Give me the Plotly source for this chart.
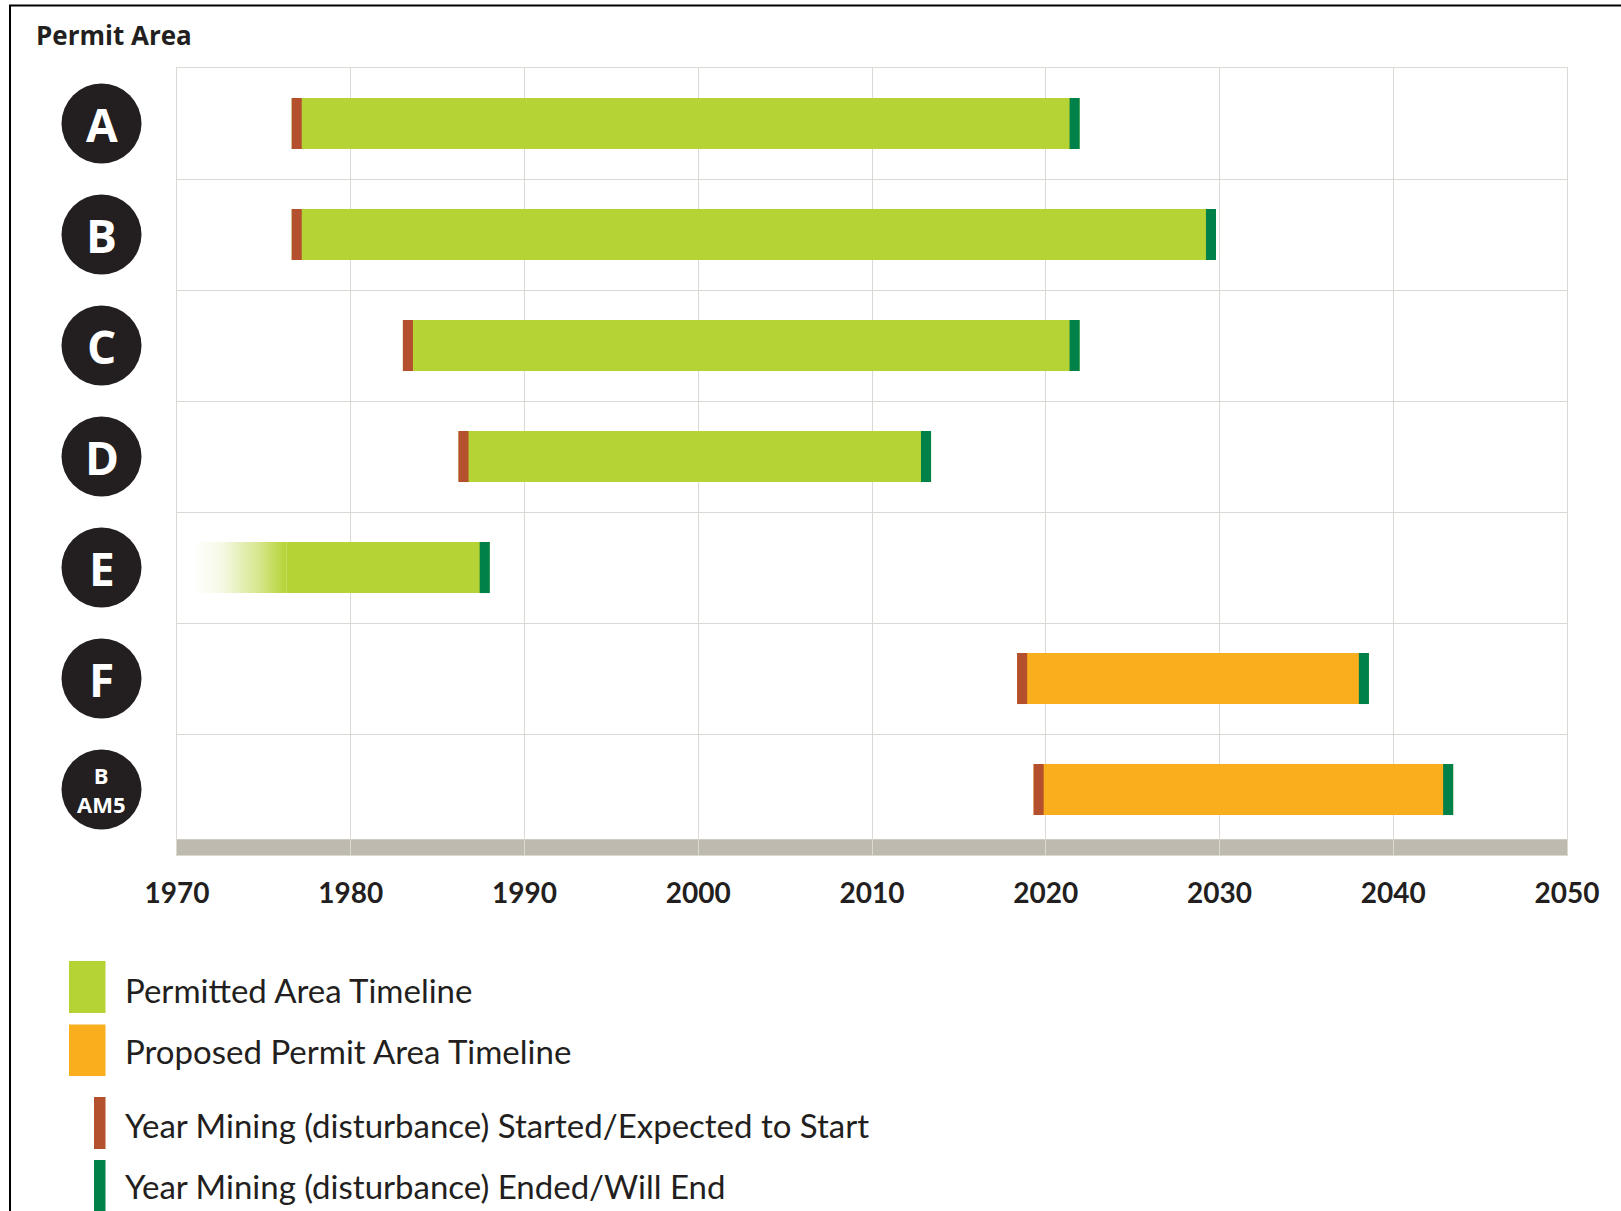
import plotly.graph_objects as go

# ---------------- data ----------------
rows = ["A", "B", "C", "D", "E", "F", "B<br>AM5"]
status = ["Permitted", "Permitted", "Permitted", "Permitted", "Permitted", "Proposed", "Proposed"]
bar_start = [1976.6, 1976.6, 1983.0, 1986.2, 1976.3, 2018.35, 2019.3]
bar_end = [2021.95, 2029.8, 2021.95, 2013.4, 1988.0, 2038.6, 2043.45]
mining_start = [1976.6, 1976.6, 1983.0, 1986.2, None, 2018.35, 2019.3]
mining_end = [2021.95, 2029.8, 2021.95, 2013.4, 1988.0, 2038.6, 2043.45]
e_fade_start = 1970.9   # row E: permitted before record, fading in
e_fade_end = 1976.3
year_ticks = [1970, 1980, 1990, 2000, 2010, 2020, 2030, 2040, 2050]
legend_labels = [
    "Permitted Area Timeline",
    "Proposed Permit Area Timeline",
    "Year Mining (disturbance) Started/Expected to Start",
    "Year Mining (disturbance) Ended/Will End",
]

# ---------------- style ----------------
W, H = 1621, 1211
ML, MR, MT, MB = 177, 54, 68, 356
PW, PH = W - ML - MR, H - MT - MB
C_PERMIT = "#b5d334"
C_PROPOSED = "#f9ae1d"
C_START = "#b5502e"
C_END = "#00814a"
C_DARK = "#231f20"
C_GRID = "#dcd9d4"
C_BAND = "#bfbab0"
BAR_W = 0.46
MARK_W = 0.58
Y_TOP, Y_BOTTOM = -0.5, 6.59
BAND_TOP = 6.449


def px_x(px):
    return (px - ML) / PW


def px_y(py):
    return (H - MB - py) / PH


idx = list(range(len(rows)))
main_col = [C_PERMIT if s == "Permitted" else C_PROPOSED for s in status]

fig = go.Figure()

# fade-in portion of row E
ei = rows.index("E")
fig.add_trace(go.Scatter(
    x=[e_fade_start, e_fade_end, e_fade_end, e_fade_start, e_fade_start],
    y=[ei - BAR_W / 2, ei - BAR_W / 2, ei + BAR_W / 2, ei + BAR_W / 2, ei - BAR_W / 2],
    mode="lines", line=dict(width=0), fill="toself",
    fillgradient=dict(type="horizontal", colorscale=[
        [0, "rgba(181,211,52,0)"], [0.3, "rgba(181,211,52,0.12)"],
        [0.7, "rgba(181,211,52,0.55)"], [1, "rgba(181,211,52,1)"]]),
    hoverinfo="skip", showlegend=False))

# main timeline bars
fig.add_trace(go.Bar(
    orientation="h", y=idx, base=bar_start,
    x=[e - s for s, e in zip(bar_start, bar_end)],
    width=BAR_W, marker=dict(color=main_col, line=dict(width=0)), showlegend=False))

# mining start markers
ms_y = [i for i, v in zip(idx, mining_start) if v is not None]
ms_x = [v for v in mining_start if v is not None]
fig.add_trace(go.Bar(
    orientation="h", y=ms_y, base=ms_x, x=[MARK_W] * len(ms_x),
    width=BAR_W, marker=dict(color=C_START, line=dict(width=0)), showlegend=False))

# mining end markers
fig.add_trace(go.Bar(
    orientation="h", y=idx, base=[v - MARK_W for v in mining_end], x=[MARK_W] * len(idx),
    width=BAR_W, marker=dict(color=C_END, line=dict(width=0)), showlegend=False))

shapes = []
annotations = []

# grey base band
shapes.append(dict(type="rect", xref="x", yref="y", x0=year_ticks[0], x1=year_ticks[-1],
                   y0=BAND_TOP, y1=Y_BOTTOM, fillcolor=C_BAND, line=dict(width=0), layer="below"))

# row circles
cx = px_x(101.5)
for i, lab in enumerate(rows):
    shapes.append(dict(type="circle", xref="paper", yref="y", xsizemode="pixel", ysizemode="pixel",
                       xanchor=cx, yanchor=i, x0=-40, x1=40, y0=-40, y1=40,
                       fillcolor=C_DARK, line=dict(width=0)))
    big = "<br>" not in lab
    annotations.append(dict(xref="paper", yref="y", x=cx, y=i, text=lab, showarrow=False,
                            xanchor="center", yanchor="middle", align="center",
                            font=dict(family="Open Sans", size=46 if big else 22, color="white", weight=700)))

# outer frame
shapes.append(dict(type="line", xref="paper", yref="paper", x0=px_x(10), x1=px_x(10),
                   y0=px_y(5.5), y1=px_y(H + 5), line=dict(color="black", width=2)))
shapes.append(dict(type="line", xref="paper", yref="paper", x0=px_x(9), x1=px_x(W + 5),
                   y0=px_y(5.5), y1=px_y(5.5), line=dict(color="black", width=2)))

# title
annotations.append(dict(xref="paper", yref="paper", x=px_x(34), y=px_y(35), text="Permit Area",
                        showarrow=False, xanchor="left", yanchor="middle",
                        font=dict(family="Open Sans", size=26, color=C_DARK, weight=700)))

# legend
leg_items = [
    (C_PERMIT, 69, 105.5, 961, 1013, 990),
    (C_PROPOSED, 69, 105.5, 1024.5, 1076, 1051),
    (C_START, 94, 105.5, 1097, 1149, 1125),
    (C_END, 94, 105.5, 1160, 1215, 1186),
]
for (col, x0, x1, y0, y1, ty), lab in zip(leg_items, legend_labels):
    shapes.append(dict(type="rect", xref="paper", yref="paper", x0=px_x(x0), x1=px_x(x1),
                       y0=px_y(y1), y1=px_y(y0), fillcolor=col, line=dict(width=0)))
    annotations.append(dict(xref="paper", yref="paper", x=px_x(123), y=px_y(ty), text=lab,
                            showarrow=False, xanchor="left", yanchor="middle",
                            font=dict(family="Lato", size=33, color=C_DARK)))

fig.update_layout(
    width=W, height=H, margin=dict(l=ML, r=MR, t=MT, b=MB),
    paper_bgcolor="white", plot_bgcolor="white",
    barmode="overlay", showlegend=False,
    shapes=shapes, annotations=annotations,
    xaxis=dict(range=[year_ticks[0], year_ticks[-1]], tickvals=year_ticks,
               ticktext=[str(t) for t in year_ticks],
               showgrid=True, gridcolor=C_GRID, gridwidth=1, zeroline=False,
               showline=True, linecolor=C_GRID, linewidth=1, mirror=True,
               ticks="", ticklabelstandoff=13,
               tickfont=dict(family="Lato", size=28, color=C_DARK, weight=700)),
    yaxis=dict(range=[Y_BOTTOM, Y_TOP], tickvals=[i + 0.5 for i in idx[:-1]],
               showgrid=True, gridcolor=C_GRID, gridwidth=1, zeroline=False,
               showticklabels=False, ticks="",
               showline=True, linecolor=C_GRID, linewidth=1, mirror=True),
)

fig.write_html("out.html")
